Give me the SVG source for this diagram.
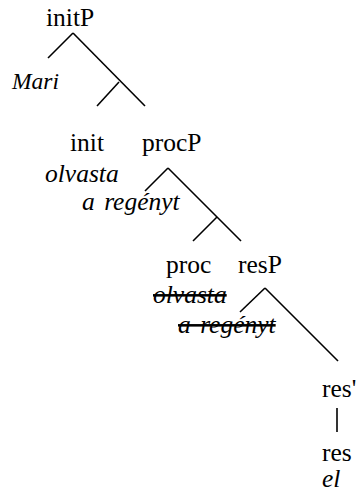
<svg xmlns="http://www.w3.org/2000/svg" width="356" height="492" viewBox="0 0 356 492">
<style>
.i{font-style:italic}
.s{text-decoration:line-through}
line{stroke:#000;stroke-width:1.6;fill:none}
</style>
<g id="edges">
<line x1="73" y1="33" x2="48" y2="58"/>
<line x1="73" y1="33" x2="145" y2="106"/>
<line x1="119" y1="82" x2="97" y2="106"/>
<line x1="168" y1="168" x2="145" y2="191"/>
<line x1="168" y1="168" x2="241" y2="241"/>
<line x1="217" y1="217" x2="193" y2="241"/>
<line x1="265" y1="288" x2="240" y2="312"/>
<line x1="265" y1="288" x2="338" y2="361"/>
<line x1="337" y1="408" x2="337" y2="432"/>
</g>
<g font-family="Liberation Serif, Times New Roman, serif" font-size="25.5" fill="#000">
<g id="initP"><text x="46" y="26">initP</text></g>
<g id="Mari"><text class="i" x="12" y="89" font-size="23.5">Mari</text></g>
<g id="init"><text x="70" y="151">init</text><text class="i" x="45" y="182">olvasta</text><text class="i" x="82" y="210" word-spacing="3">a regényt</text></g>
<g id="procP"><text x="142" y="151">procP</text></g>
<g id="proc"><text x="166" y="273">proc</text><text class="i s" x="153" y="303">olvasta</text><text class="i s" x="178" y="333" word-spacing="3">a regényt</text></g>
<g id="resP"><text x="238" y="273">resP</text></g>
<g id="resbar"><text x="322" y="397">res'</text></g>
<g id="res"><text x="322" y="461">res</text><text class="i" x="322" y="487">el</text></g>
</g>
</svg>
